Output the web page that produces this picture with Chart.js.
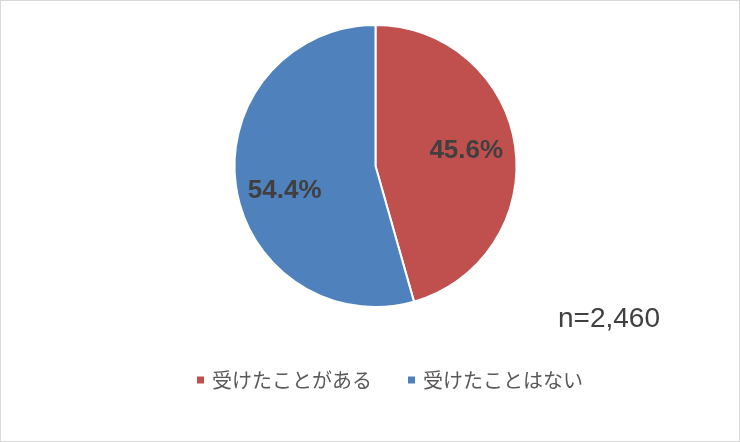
<!DOCTYPE html>
<html>
<head>
<meta charset="utf-8">
<script src="https://cdn.jsdelivr.net/npm/chart.js@4/dist/chart.umd.min.js"></script>
<style>
  html, body { margin: 0; padding: 0; background: #fff; }
  #wrap { width: 740px; height: 442px; }
</style>
</head>
<body>
<div id="wrap"><canvas id="chart" width="740" height="442"></canvas></div>
<script>
const categories = ['受けたことがある', '受けたことはない'];
const values = [45.6, 54.4];
const colors = ['#C0504D', '#4F81BD'];
const sampleNote = 'n=2,460';

// frame, % labels, legend and sample size note
const extras = {
  id: 'extras',
  beforeDraw(chart) {
    const ctx = chart.ctx;
    ctx.save();
    ctx.fillStyle = '#fff';
    ctx.fillRect(0, 0, chart.width, chart.height);
    ctx.strokeStyle = '#d9d9d9';
    ctx.lineWidth = 1;
    ctx.strokeRect(0.5, 0.5, chart.width - 1, chart.height - 1);
    ctx.restore();
  },
  afterDraw(chart) {
    const ctx = chart.ctx;
    const meta = chart.getDatasetMeta(0);
    ctx.save();

    // percentage labels
    ctx.font = 'bold 26px "Liberation Sans", Arial, sans-serif';
    ctx.fillStyle = '#404040';
    ctx.textAlign = 'center';
    ctx.textBaseline = 'middle';
    meta.data.forEach((arc, i) => {
      const mid = (arc.startAngle + arc.endAngle) / 2;
      const r = arc.outerRadius * 0.65;
      const x = arc.x + Math.cos(mid) * r;
      const y = arc.y + Math.sin(mid) * r + (i === 1 ? 12 : -3);
      ctx.fillText(values[i].toFixed(1) + '%', x, y);
    });

    // legend
    ctx.font = '20px "Noto Sans CJK JP", sans-serif';
    const box = 7, gapText = 8, gapItem = 36;
    const widths = categories.map(c => ctx.measureText(c).width);
    let total = 0;
    widths.forEach((w, i) => { total += box + gapText + w + (i < widths.length - 1 ? gapItem : 0); });
    let x = 390 - total / 2;
    const ly = 380;
    ctx.textAlign = 'left';
    categories.forEach((c, i) => {
      ctx.fillStyle = colors[i];
      ctx.fillRect(x, ly - box / 2, box, box);
      x += box + gapText;
      ctx.fillStyle = '#595959';
      ctx.fillText(c, x, ly);
      x += widths[i] + gapItem;
    });

    // sample size
    ctx.font = '28px "Liberation Sans", Arial, sans-serif';
    ctx.fillStyle = '#404040';
    ctx.textAlign = 'center';
    ctx.fillText(sampleNote, 609, 319);
    ctx.restore();
  }
};

new Chart(document.getElementById('chart'), {
  type: 'pie',
  data: {
    labels: categories,
    datasets: [{
      data: values,
      backgroundColor: colors,
      borderColor: '#fff',
      borderWidth: 2
    }]
  },
  options: {
    responsive: false,
    animation: false,
    layout: { padding: { left: 233, right: 222, top: 24, bottom: 134 } },
    plugins: {
      legend: { display: false },
      tooltip: { enabled: false }
    }
  },
  plugins: [extras]
});
</script>
</body>
</html>
